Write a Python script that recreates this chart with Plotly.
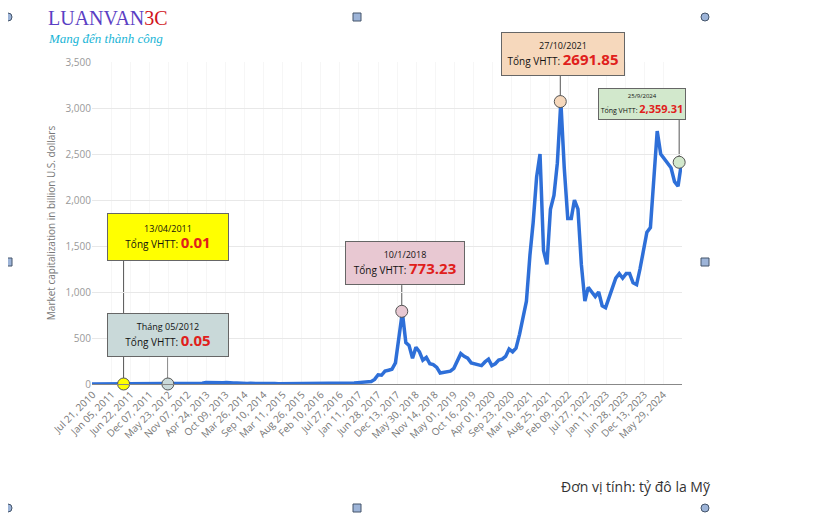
import pandas as pd
import plotly.graph_objects as go

# monthly total market capitalization, billion USD (Jul 2010 .. Oct 2024)
cap_2010 = [0, 0, 0, 0, 0, 0]
cap_2011 = [0.1, 0.1, 0.3, 0.5, 0.8, 1.5, 1, 0.8, 0.6, 0.4, 0.3, 0.3]
cap_2012 = [0.5, 0.5, 0.5, 0.5, 0.5, 0.6, 0.8, 1, 1.2, 1.1, 1.1, 1.3]
cap_2013 = [2, 3, 8, 15, 13, 11, 9, 11, 13, 16, 10, 10]
cap_2014 = [12, 8, 7, 6, 7, 8, 8, 7, 6, 5, 5, 5]
cap_2015 = [4, 4, 4, 4, 4, 4, 4, 4, 4, 4, 5, 7]
cap_2016 = [7, 6, 7, 7, 8, 11, 11, 10, 10, 11, 12, 15]
cap_2017 = [18, 20, 22, 28, 50, 100, 95, 140, 150, 160, 230, 500]
cap_2018 = [780, 450, 420, 280, 400, 350, 260, 290, 220, 210, 180, 120]
cap_2019 = [125, 130, 140, 170, 240, 330, 300, 280, 230, 220, 210, 200]
cap_2020 = [240, 270, 200, 220, 260, 270, 300, 380, 350, 390, 540, 720]
cap_2021 = [900, 1400, 1750, 2250, 2500, 1450, 1300, 1900, 2050, 2400, 3070, 2350]
cap_2022 = [1800, 1800, 2000, 1900, 1300, 900, 1050, 1000, 950, 1000, 850, 830]
cap_2023 = [950, 1050, 1150, 1200, 1150, 1200, 1200, 1100, 1080, 1250, 1450, 1650]
cap_2024 = [1700, 2300, 2750, 2500, 2450, 2400, 2350, 2200, 2150, 2400]

values = (cap_2010 + cap_2011 + cap_2012 + cap_2013 + cap_2014 + cap_2015 + cap_2016
          + cap_2017 + cap_2018 + cap_2019 + cap_2020 + cap_2021 + cap_2022 + cap_2023 + cap_2024)
dates = pd.date_range("2010-07-01", periods=len(values), freq="MS") + pd.Timedelta(days=14)

tick_dates = ["2010-07-21", "2011-01-05", "2011-06-22", "2011-12-07", "2012-05-23", "2012-11-07",
              "2013-04-24", "2013-10-09", "2014-03-26", "2014-09-10", "2015-02-25", "2015-08-12",
              "2016-01-27", "2016-07-13", "2016-12-28", "2017-06-14", "2017-11-29", "2018-05-16",
              "2018-10-31", "2019-04-17", "2019-10-02", "2020-03-18", "2020-09-02", "2021-02-17",
              "2021-08-04", "2022-01-19", "2022-07-06", "2022-12-21", "2023-06-07", "2023-11-22",
              "2024-05-08"]
tick_text = ["Jul 21, 2010", "Jan 05, 2011", "Jun 22, 2011", "Dec 07, 2011", "May 23, 2012",
             "Nov 07, 2012", "Apr 24, 2013", "Oct 09, 2013", "Mar 26, 2014", "Sep 10, 2014",
             "Mar 11, 2015", "Aug 26, 2015", "Feb 10, 2016", "Jul 27, 2016", "Jan 11, 2017",
             "Jun 28, 2017", "Dec 13, 2017", "May 30, 2018", "Nov 14, 2018", "May 01, 2019",
             "Oct 16, 2019", "Apr 01, 2020", "Sep 23, 2020", "Mar 10, 2021", "Aug 25, 2021",
             "Feb 09, 2022", "Jul 27, 2022", "Jan 11, 2023", "Jun 28, 2023", "Dec 13, 2023",
             "May 29, 2024"]

# highlighted events
event_dates = ["2011-04-20", "2012-05-15", "2018-01-10", "2021-11-10", "2024-09-25"]
event_y = [0, 0, 790, 3070, 2410]
event_colors = ["#ffff00", "#c9d9d9", "#e8c8d2", "#f6d8bc", "#d2e8cc"]
event_titles = ["13/04/2011", "Tháng 05/2012", "10/1/2018", "27/10/2021", "25/9/2024"]
event_values = ["0.01", "0.05", "773.23", "2691.85", "2,359.31"]
box_bottom = [1348, 290, 1075, 3350, 2880]          # y where connector meets the box
box_center = [(168, 237), (168, 335), (405, 263), (563, 54), (642, 104)]  # pixel centres
box_size = [(122, 48), (122, 44), (120, 44), (124, 44), (88, 32)]

OFF = 8  # page body margin
L, R, T, B = 92 - OFF, 136 + OFF, 62 - OFF, 134 + OFF
PW, PH = 818 - L - R, 518 - T - B


def px_x(px):
    return (px - OFF - L) / PW


def px_y(py):
    return (T + PH - (py - OFF)) / PH


fig = go.Figure()
fig.add_trace(go.Scatter(x=dates, y=values, mode="lines",
                         line=dict(color="#2e6fd8", width=3.5), hoverinfo="skip"))

for i, d in enumerate(event_dates):
    fig.add_shape(type="line", xref="x", yref="y", x0=d, x1=d, y0=event_y[i], y1=box_bottom[i],
                  line=dict(color="#555", width=1), layer="below")
    cx, cy = box_center[i]
    w, h = box_size[i]
    small = 7 if i == 4 else 10
    big = 11 if i == 4 else 15
    fig.add_annotation(
        xref="paper", yref="paper", x=px_x(cx), y=px_y(cy), xanchor="center", yanchor="middle",
        text=(f"<span style='font-size:{small - 1}px'>{event_titles[i]}</span><br>"
              f"<span style='font-size:{small}px'>Tổng VHTT: </span>"
              f"<b><span style='font-size:{big}px;color:#e0201b'>{event_values[i]}</span></b>"),
        showarrow=False, bgcolor=event_colors[i], bordercolor="#666", borderwidth=1,
        width=w - 4, height=h - 4, font=dict(family="Open Sans", color="#111"),
    )

fig.add_trace(go.Scatter(x=event_dates, y=event_y, mode="markers",
                         marker=dict(size=12, color=event_colors, line=dict(color="#555", width=1)),
                         hoverinfo="skip", cliponaxis=False))

# title / logo / footer texts
fig.add_annotation(xref="paper", yref="paper", x=px_x(46), y=px_y(18),
                   xanchor="left", yanchor="middle", showarrow=False,
                   text="<span style='color:#5b3fc4'>LUANVAN</span><span style='color:#d0121b'>3C</span>",
                   font=dict(family="Liberation Serif", size=20))
fig.add_annotation(xref="paper", yref="paper", x=px_x(46), y=px_y(38),
                   xanchor="left", yanchor="middle", showarrow=False, text="<i>Mang đến thành công</i>",
                   font=dict(family="Liberation Serif", size=13, color="#19b5d6"))
fig.add_annotation(xref="paper", yref="paper", x=px_x(713), y=px_y(486),
                   xanchor="right", yanchor="middle", showarrow=False, text="Đơn vị tính: tỷ đô la Mỹ",
                   font=dict(family="Open Sans", size=14, color="#333"))

# selection handles around the picture
for px, py in [(8, 17), (705, 17), (8, 508), (705, 508)]:
    fig.add_shape(type="circle", xref="paper", yref="paper",
                  x0=px_x(px - 4), x1=px_x(px + 4), y0=px_y(py + 4), y1=px_y(py - 4),
                  fillcolor="#9db4d8", line=dict(color="#44546a", width=1))
for px, py in [(357, 17), (8, 262), (705, 262), (357, 508)]:
    fig.add_shape(type="rect", xref="paper", yref="paper",
                  x0=px_x(px - 4), x1=px_x(px + 4), y0=px_y(py + 4), y1=px_y(py - 4),
                  fillcolor="#9db4d8", line=dict(color="#44546a", width=1))

fig.update_layout(
    width=818, height=518, showlegend=False,
    margin=dict(l=L, r=R, t=T, b=B),
    paper_bgcolor="white", plot_bgcolor="white",
    font=dict(family="Open Sans", color="#888"),
    xaxis=dict(range=["2010-07-15", "2024-10-20"], tickvals=tick_dates, ticktext=tick_text,
               tickangle=-45, tickfont=dict(size=10, color="#777"), showgrid=True,
               gridcolor="#f6f6f6", showline=True, linecolor="#888", zeroline=False, ticks="",
               automargin=False),
    yaxis=dict(range=[0, 3500], dtick=500, tickformat=",", tickfont=dict(size=10, color="#999"),
               gridcolor="#e8e8e8", zeroline=False, automargin=False,
               title=dict(text="Market capitalization in billion U.S. dollars",
                          font=dict(size=10, color="#777"), standoff=8)),
)

fig.write_html("out.html")
